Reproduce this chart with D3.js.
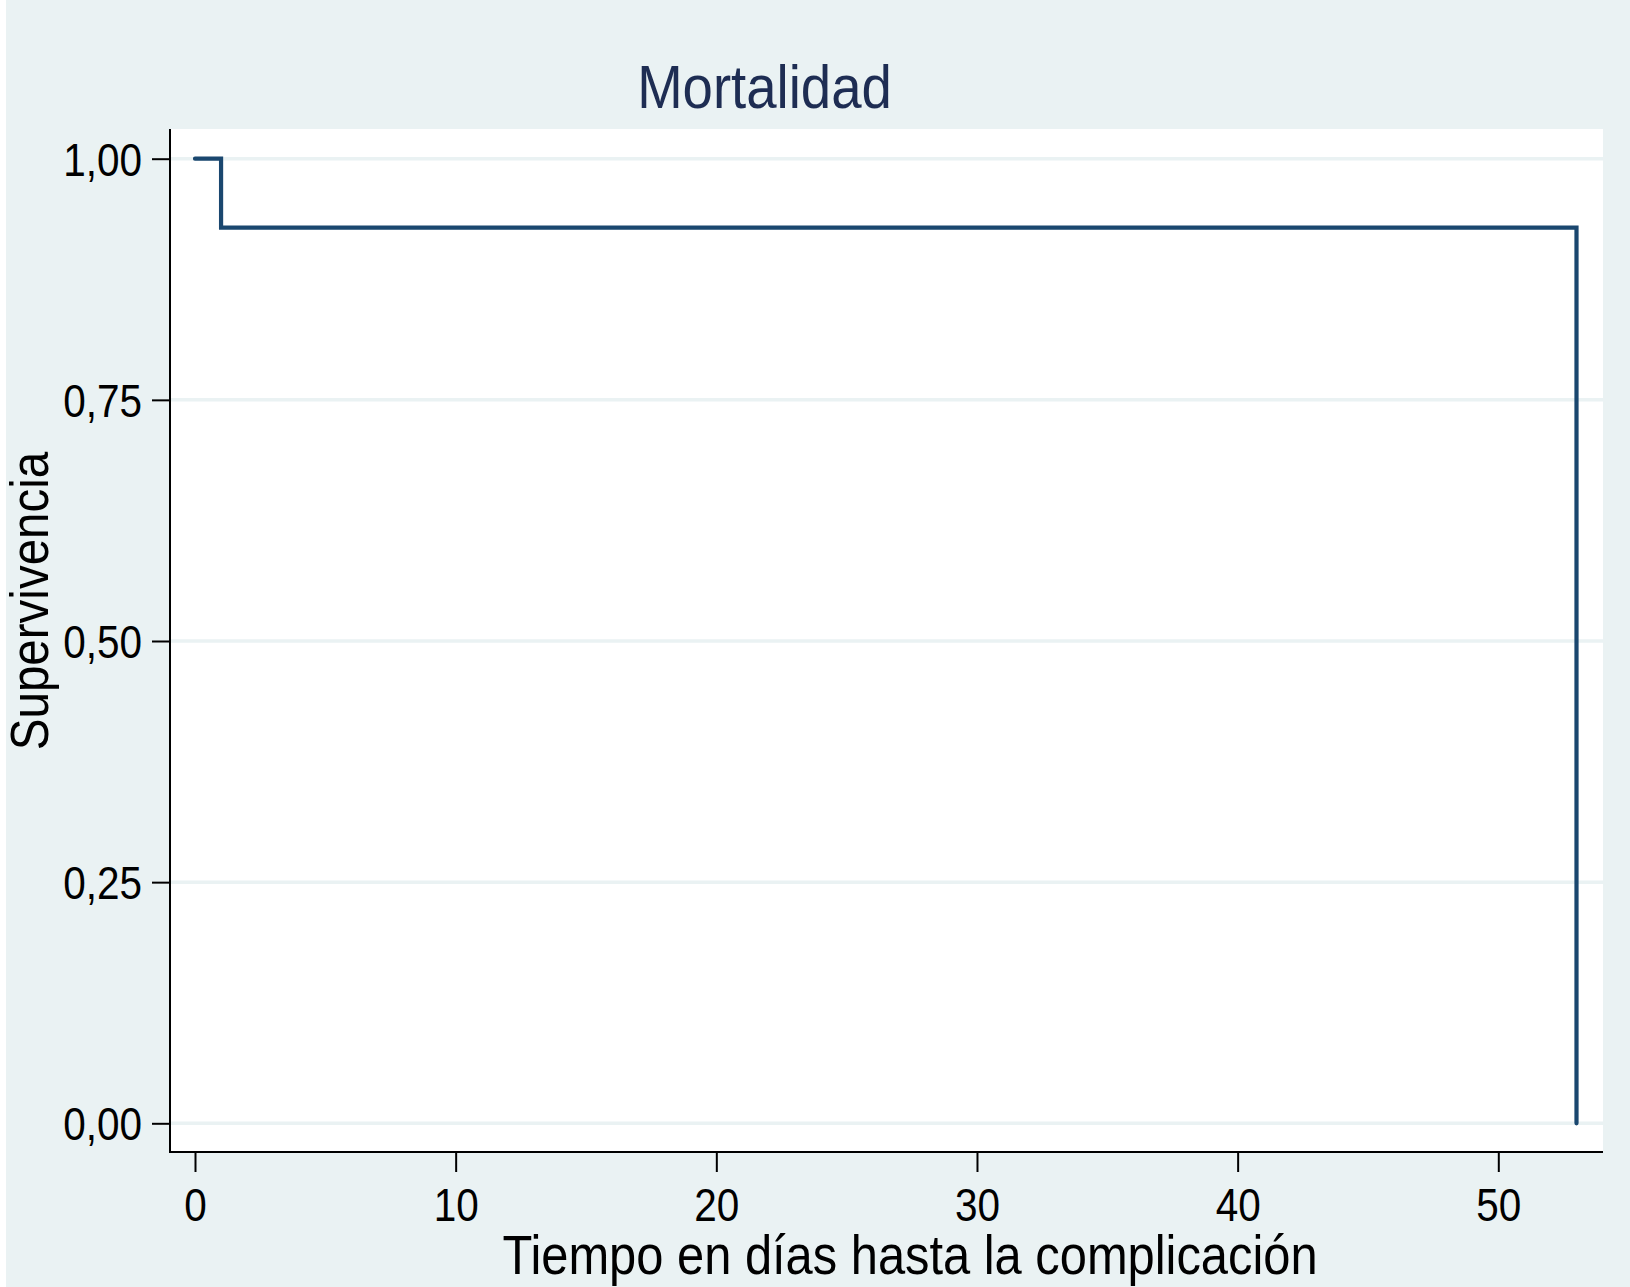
<!DOCTYPE html>
<html>
<head>
<meta charset="utf-8">
<script src="https://cdn.jsdelivr.net/npm/d3@7"></script>
<style>
  html, body { margin: 0; padding: 0; background: #eaf2f3; }
  svg { display: block; }
  text { font-family: "Liberation Sans", Arial, Helvetica, sans-serif; }
</style>
</head>
<body>
<svg id="chart" width="1630" height="1287"></svg>
<script>
// ---- Data ----
const times = [0, 1, 53];
const survival = [1, 0.9286, 0];
const xTicks = [0, 10, 20, 30, 40, 50];
const yTicks = [0, 0.25, 0.5, 0.75, 1];
const titleText = "Mortalidad";
const xTitle = "Tiempo en días hasta la complicación";
const yTitle = "Supervivencia";

// ---- Layout ----
const W = 1630, H = 1287;
const SX = 0.88; // horizontal text compression
const plot = { left: 170, right: 1603, top: 129, bottom: 1152 };

const svg = d3.select("#chart");
svg.append("rect").attr("x", 0).attr("y", 0).attr("width", W).attr("height", H).attr("fill", "#eaf2f3");
svg.append("rect").attr("x", 0).attr("y", 0).attr("width", 6).attr("height", H).attr("fill", "#ffffff");

svg.append("rect")
  .attr("x", plot.left).attr("y", plot.top)
  .attr("width", plot.right - plot.left).attr("height", plot.bottom - plot.top)
  .attr("fill", "#ffffff");

const x = d3.scaleLinear().domain([0, 50]).range([195, 1498.3]);
const y = d3.scaleLinear().domain([0, 1]).range([1123.3, 158.7]);

// gridlines
svg.append("g").selectAll("line").data(yTicks).join("line")
  .attr("x1", plot.left).attr("x2", plot.right)
  .attr("y1", d => y(d)).attr("y2", d => y(d))
  .attr("stroke", "#eaf2f3").attr("stroke-width", 3.5);

// curve
const pts = times.map((t, i) => [t, survival[i]]);
const line = d3.line().x(d => x(d[0])).y(d => y(d[1])).curve(d3.curveStepAfter);
svg.append("path").datum(pts)
  .attr("d", line)
  .attr("fill", "none")
  .attr("stroke", "#1a476f")
  .attr("stroke-width", 4.2)
  .attr("stroke-linejoin", "miter")
  .attr("stroke-linecap", "round");

// Y axis
const fmt = d => d3.format(".2f")(d).replace(".", ",");
const yAxis = d3.axisLeft(y).tickValues(yTicks).tickSize(18).tickPadding(0).tickFormat(fmt).tickSizeOuter(0);
const gy = svg.append("g").attr("transform", `translate(${plot.left},0)`).call(yAxis);
gy.select(".domain").remove();
gy.append("line").attr("x1", 0).attr("x2", 0).attr("y1", plot.top).attr("y2", plot.bottom + 1)
  .attr("stroke", "#000").attr("stroke-width", 2);
gy.selectAll(".tick line").attr("stroke", "#000").attr("stroke-width", 2);
gy.selectAll(".tick text")
  .attr("font-size", 46).attr("fill", "#000")
  .attr("font-family", "'Liberation Sans', Arial, Helvetica, sans-serif")
  .attr("text-anchor", "end")
  .attr("x", -28 / SX).attr("dy", "0.36em")
  .attr("transform", `scale(${SX},1)`);

// X axis
const xAxis = d3.axisBottom(x).tickValues(xTicks).tickSize(20).tickPadding(0).tickFormat(d3.format("d")).tickSizeOuter(0);
const gx = svg.append("g").attr("transform", `translate(0,${plot.bottom})`).call(xAxis);
gx.select(".domain").remove();
gx.append("line").attr("x1", plot.left - 1).attr("x2", plot.right).attr("y1", 0).attr("y2", 0)
  .attr("stroke", "#000").attr("stroke-width", 2);
gx.selectAll(".tick line").attr("stroke", "#000").attr("stroke-width", 2);
gx.selectAll(".tick text")
  .attr("font-size", 46).attr("fill", "#000")
  .attr("font-family", "'Liberation Sans', Arial, Helvetica, sans-serif")
  .attr("text-anchor", "middle")
  .attr("y", 69).attr("dy", 0)
  .attr("transform", `scale(${SX},1)`);

// Titles
function label(txt, cx, cy, size, color, rotate) {
  const g = svg.append("g").attr("transform", `translate(${cx},${cy}) rotate(${rotate || 0}) scale(${SX},1)`);
  g.append("text").attr("text-anchor", "middle").attr("font-size", size).attr("fill", color).text(txt);
}
label(titleText, 764.5, 108, 62, "#1e2d53", 0);
label(xTitle, 910, 1274, 55.5, "#000000", 0);
label(yTitle, 48, 601, 54, "#000000", -90);
</script>
</body>
</html>
